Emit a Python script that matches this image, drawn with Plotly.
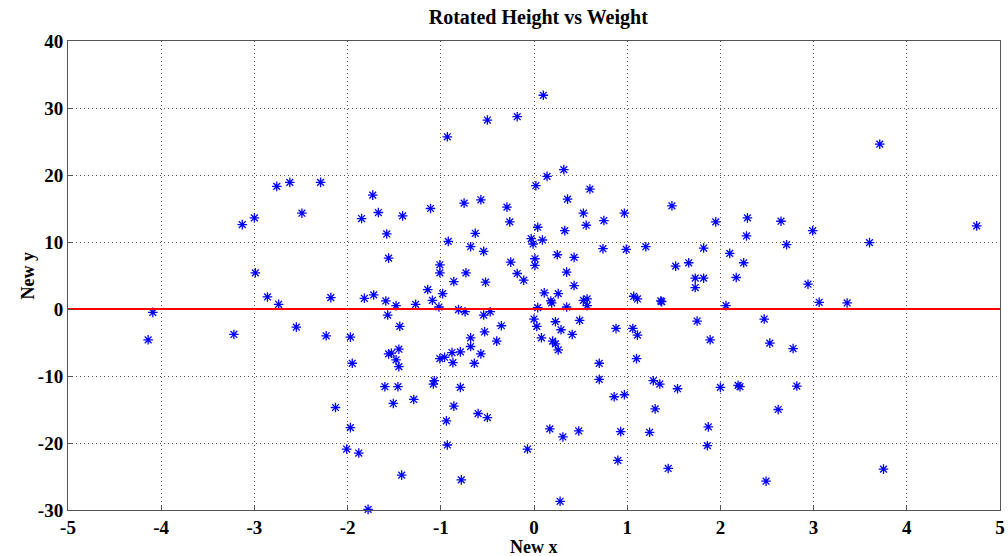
import plotly.graph_objects as go

# Point coordinates
new_x = [-4.14, -4.09, -3.22, -3.13, -3.00, -2.99, -2.86, -2.76, -2.74, -2.62,
         -2.55, -2.49, -2.29, -2.23, -2.18, -2.13, -2.01, -1.97, -1.97, -1.95,
         -1.88, -1.85, -1.82, -1.78, -1.73, -1.72, -1.67, -1.59, -1.58, -1.56,
         -1.57, -1.48, -1.44, -1.56, -1.53, -1.45, -1.48, -1.45, -1.60, -1.46,
         -1.51, -1.41, -1.42, -1.29, -1.27, -1.14, -1.11, -1.09, -1.07, -1.08,
         -1.02, -1.01, -1.01, -1.01, -0.98, -0.96, -0.94, -0.93, -0.93, -0.92,
         -0.88, -0.87, -0.86, -0.86, -0.81, -0.79, -0.79, -0.78, -0.75, -0.74,
         -0.73, -0.68, -0.68, -0.68, -0.64, -0.63, -0.60, -0.57, -0.57, -0.54,
         -0.54, -0.53, -0.52, -0.50, -0.50, -0.47, -0.40, -0.35, -0.29, -0.26,
         -0.25, -0.18, -0.18, -0.11, -0.07, -0.03, -0.01, 0.00, 0.01, 0.01,
         0.02, 0.03, 0.04, 0.04, 0.08, 0.09, 0.10, 0.11, 0.14, 0.17,
         0.18, 0.19, 0.20, 0.23, 0.23, 0.25, 0.26, 0.26, 0.28, 0.29,
         0.31, 0.32, 0.33, 0.35, 0.35, 0.36, 0.41, 0.43, 0.43, 0.48,
         0.49, 0.53, 0.53, 0.56, 0.57, 0.57, 0.60, 0.70, 0.70, 0.74,
         0.75, 0.86, 0.88, 0.90, 0.93, 0.97, 0.97, 0.99, 1.06, 1.07,
         1.10, 1.11, 1.11, 1.20, 1.24, 1.28, 1.30, 1.35, 1.36, 1.37,
         1.44, 1.48, 1.52, 1.54, 1.66, 1.73, 1.73, 1.75, 1.82, 1.82,
         1.86, 1.87, 1.89, 1.95, 2.00, 2.06, 2.10, 2.17, 2.19, 2.21,
         2.25, 2.28, 2.29, 2.47, 2.49, 2.53, 2.62, 2.65, 2.71, 2.78,
         2.82, 2.94, 2.99, 3.06, 3.36, 3.60, 3.71, 3.75, 4.75]
new_y = [-4.6, -0.5, -3.8, 12.6, 13.6, 5.4, 1.8, 18.3, 0.7, 18.9,
         -2.7, 14.3, 18.9, -4.0, 1.7, -14.7, -20.9, -17.7, -4.2, -8.1,
         -21.5, 13.5, 1.6, -29.9, 17.0, 2.1, 14.4, 1.2, 11.2, 7.6,
         -0.9, 0.5, -2.6, -6.7, -6.6, -6.0, -7.6, -8.6, -11.6, -11.6,
         -14.1, 13.9, -24.8, -13.5, 0.7, 2.9, 15.0, 1.3, -10.7, -11.2,
         0.3, 6.6, 5.4, -7.4, 2.3, -7.2, -16.7, -20.3, 25.7, 10.1,
         -6.5, -8.0, 4.1, -14.5, -0.1, -6.4, -11.7, -25.5, 15.8, -0.4,
         5.4, 9.3, -4.3, -5.6, -8.1, 11.3, -15.6, 16.3, -6.7, 8.6,
         -0.9, -3.4, 4.0, 28.2, -16.2, -0.4, -4.8, -2.5, 15.2, 13.0,
         7.0, 28.7, 5.3, 4.3, -20.9, 10.5, 9.7, -1.5, 7.5, 6.5,
         18.4, -2.6, 0.2, 12.2, -4.3, 10.3, 31.9, 2.4, 19.8, -17.9,
         1.2, 0.9, -4.8, -1.9, -5.2, 8.1, 2.3, -6.1, -28.7, -3.1,
         -19.1, 20.8, 11.7, 5.5, 0.3, 16.4, -3.8, 7.7, 3.5, -18.2,
         -1.7, 14.3, 1.3, 12.5, 1.5, 0.5, 17.9, -8.1, -10.5, 9.0,
         13.2, -13.1, -2.9, -22.6, -18.3, 14.3, -12.8, 8.9, -2.9, 1.9,
         -7.4, 1.5, -3.9, 9.3, -18.4, -10.7, -14.9, -11.2, 1.2, 1.1,
         -23.8, 15.4, 6.4, -11.9, 6.9, 4.6, 3.2, -1.8, 4.6, 9.1,
         -20.4, -17.6, -4.6, 13.0, -11.7, 0.5, 8.3, 4.7, -11.4, -11.6,
         6.9, 10.9, 13.6, -1.5, -25.7, -5.1, -15.0, 13.1, 9.6, -5.9,
         -11.5, 3.7, 11.7, 1.0, 0.9, 9.9, 24.6, -23.9, 12.4]

# Horizontal reference line
line_x = [-5, 5]
line_y = [0, 0]

x_ticks = [-5, -4, -3, -2, -1, 0, 1, 2, 3, 4, 5]
y_ticks = [-30, -20, -10, 0, 10, 20, 30, 40]

FONT = "Liberation Serif"

fig = go.Figure()
fig.add_trace(go.Scatter(
    x=new_x, y=new_y, mode="markers",
    marker=dict(symbol="asterisk-open", size=8, color="blue",
                line=dict(color="blue", width=1.3)),
    showlegend=False, cliponaxis=False,
))
fig.add_trace(go.Scatter(
    x=line_x, y=line_y, mode="lines",
    line=dict(color="red", width=2),
    showlegend=False,
))

axis_common = dict(
    showgrid=True, gridcolor="#555555", griddash="1px,3px", gridwidth=1,
    zeroline=False, showline=True, linecolor="#555555", linewidth=1,
    mirror=True, ticks="inside", ticklen=5, tickcolor="#555555",
    tickfont=dict(family=FONT, size=19, color="black"),
    ticklabeloverflow="allow",
)

fig.update_layout(
    width=1008, height=556,
    margin=dict(l=68, r=3, t=41, b=46),
    paper_bgcolor="white", plot_bgcolor="white",
    title=dict(text="<b>Rotated Height vs Weight</b>", x=0.534, xanchor="center",
               y=1 - 17 / 556, yanchor="middle", yref="container",
               font=dict(family=FONT, size=20, color="black")),
    xaxis=dict(range=[-5, 5], tickvals=x_ticks,
               ticktext=[f"<b>{v}</b>" for v in x_ticks], **axis_common),
    yaxis=dict(range=[-30, 40], tickvals=y_ticks,
               ticktext=[f"<b>{v}</b>" for v in y_ticks], **axis_common),
    annotations=[
        dict(text="<b>New x</b>", xref="paper", yref="paper", x=0.5, y=0,
             xanchor="center", yanchor="middle", yshift=-37, showarrow=False,
             font=dict(family=FONT, size=18, color="black")),
        dict(text="<b>New y</b>", xref="paper", yref="paper", x=0, y=0.5,
             xanchor="center", yanchor="middle", xshift=-41, textangle=-90,
             showarrow=False, font=dict(family=FONT, size=18, color="black")),
    ],
)

fig.write_html("out.html", config={"displayModeBar": False},
               post_script="document.body.style.margin='0';document.body.style.padding='0';")
